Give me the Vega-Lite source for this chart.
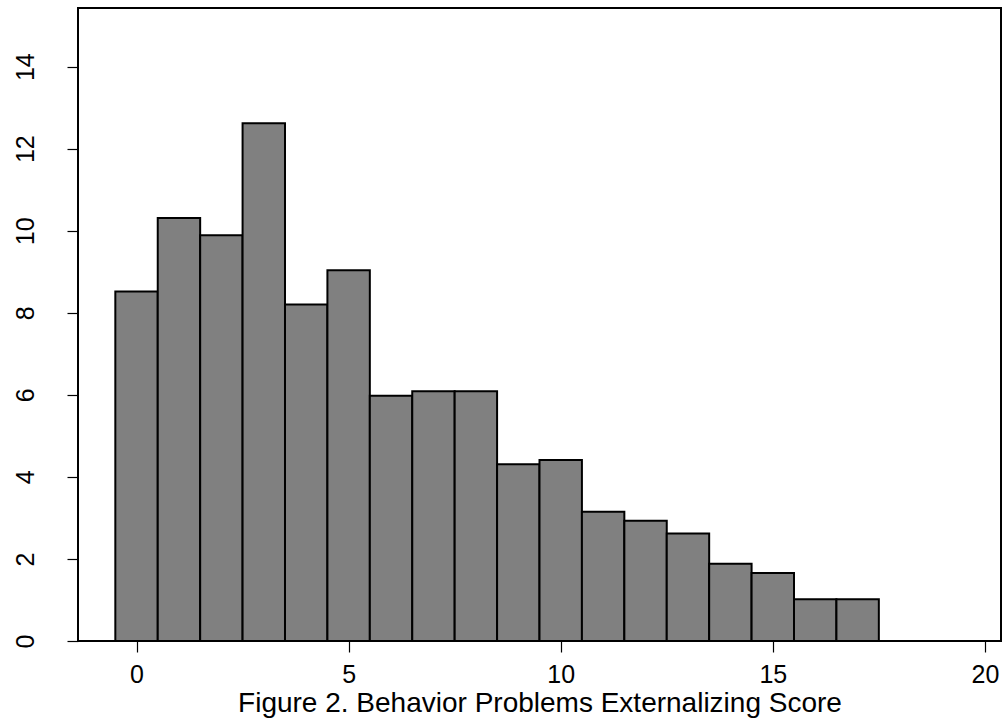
{
  "$schema": "https://vega.github.io/schema/vega-lite/v6.json",
  "autosize": {"type": "none"},
  "width": 923,
  "height": 633,
  "padding": {"left": 78, "top": 8, "right": 5, "bottom": 83},
  "background": "white",
  "config": {
    "view": {"stroke": "black", "strokeWidth": 2},
    "font": "Liberation Sans",
    "axis": {
      "grid": false,
      "domain": false,
      "tickColor": "black",
      "tickSize": 11,
      "tickWidth": 1.2,
      "labelColor": "black",
      "labelFont": "Liberation Sans",
      "labelFontSize": 25,
      "titleColor": "black",
      "titleFont": "Liberation Sans",
      "titleFontWeight": "normal"
    }
  },
  "data": {
    "values": [
      {"start": -0.5, "end": 0.5, "pct": 8.52},
      {"start": 0.5, "end": 1.5, "pct": 10.31},
      {"start": 1.5, "end": 2.5, "pct": 9.89},
      {"start": 2.5, "end": 3.5, "pct": 12.62},
      {"start": 3.5, "end": 4.5, "pct": 8.2},
      {"start": 4.5, "end": 5.5, "pct": 9.04},
      {"start": 5.5, "end": 6.5, "pct": 5.98},
      {"start": 6.5, "end": 7.5, "pct": 6.09},
      {"start": 7.5, "end": 8.5, "pct": 6.09},
      {"start": 8.5, "end": 9.5, "pct": 4.31},
      {"start": 9.5, "end": 10.5, "pct": 4.41},
      {"start": 10.5, "end": 11.5, "pct": 3.15},
      {"start": 11.5, "end": 12.5, "pct": 2.93},
      {"start": 12.5, "end": 13.5, "pct": 2.62},
      {"start": 13.5, "end": 14.5, "pct": 1.88},
      {"start": 14.5, "end": 15.5, "pct": 1.66},
      {"start": 15.5, "end": 16.5, "pct": 1.02},
      {"start": 16.5, "end": 17.5, "pct": 1.02}
    ]
  },
  "mark": {"type": "rect", "fill": "#808080", "stroke": "black", "strokeWidth": 2},
  "encoding": {
    "x": {
      "field": "start",
      "type": "quantitative",
      "scale": {"domain": [-1.38, 20.38], "nice": false, "zero": false},
      "axis": {
        "values": [0, 5, 10, 15, 20],
        "labelPadding": 10,
        "title": "Figure 2. Behavior Problems Externalizing Score",
        "titleFontSize": 28,
        "titlePadding": 2
      }
    },
    "x2": {"field": "end"},
    "y": {
      "field": "pct",
      "type": "quantitative",
      "scale": {"domain": [0, 15.43], "nice": false},
      "axis": {
        "values": [0, 2, 4, 6, 8, 10, 12, 14],
        "labelAngle": -90,
        "labelAlign": "center",
        "labelBaseline": "alphabetic",
        "labelPadding": 34,
        "title": null
      }
    },
    "y2": {"datum": 0}
  }
}
